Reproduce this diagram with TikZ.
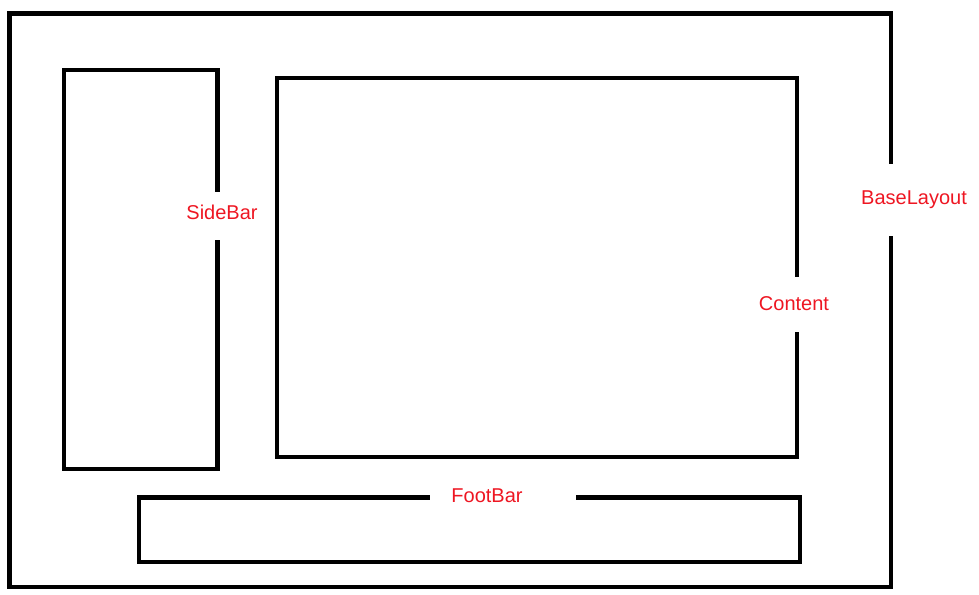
\documentclass[tikz,border=0pt]{standalone}
\usepackage{fontspec}
\setmainfont{Liberation Sans}
\definecolor{labelred}{RGB}{238,22,34}
\begin{document}
\begin{tikzpicture}[x=1pt,y=-1pt,
  frame/.style={draw=black,line width=4.5pt,line join=miter},
  gap/.style={fill=white,draw=none,inner sep=0pt},
  lbl/.style={text=labelred,font=\fontsize{20}{24}\selectfont,anchor=base,inner sep=0pt}]
\useasboundingbox (0,0) rectangle (979,594);
% boxes
\draw[frame] (9.5,13.5) rectangle (891,587) coordinate (baseBR);
\draw[frame] (64,70) rectangle (217.5,469);
\draw[frame] (277,78) rectangle (797,457);
\draw[frame] (139,497.5) rectangle (800,562);
% gaps behind labels
\node[gap,minimum width=12pt,minimum height=72pt] (gapBase) at (891,199.5) {};
\node[gap,minimum width=12pt,minimum height=48pt] (gapSide) at (217.5,216) {};
\node[gap,minimum width=12pt,minimum height=55pt] (gapContent) at (797,304.5) {};
\node[gap,minimum width=146pt,minimum height=12pt] (gapFoot) at (503,497.5) {};
% labels
\node[lbl] (baseLabel) at (914,204) {BaseLayout};
\node[lbl] (sideLabel) at (222,219) {SideBar};
\node[lbl] (contentLabel) at (794,310.5) {Content};
\node[lbl] (footLabel) at (487,502) {FootBar};
\end{tikzpicture}
\end{document}
